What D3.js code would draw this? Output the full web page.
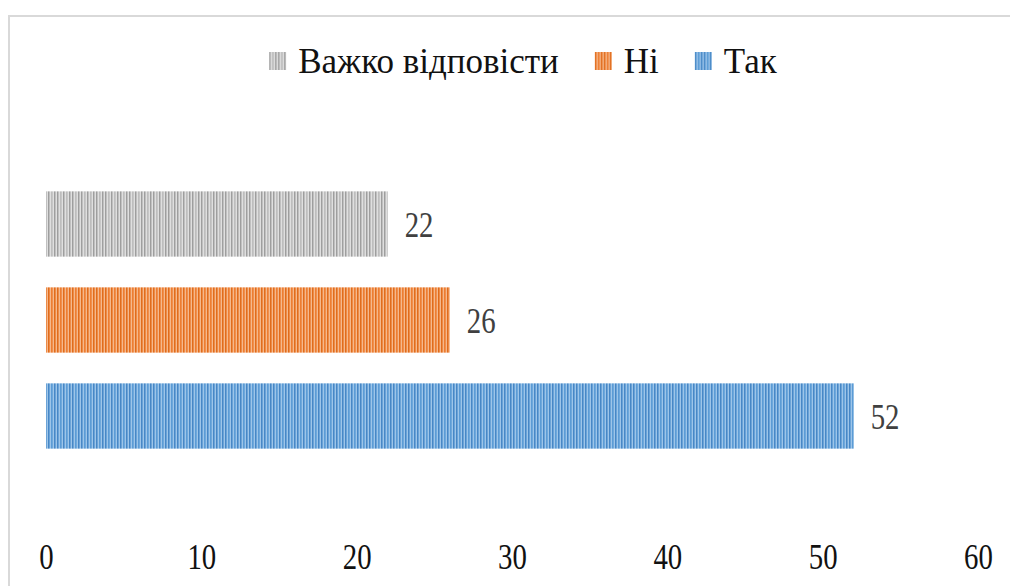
<!DOCTYPE html>
<html><head><meta charset="utf-8">
<script src="https://cdn.jsdelivr.net/npm/d3@7/dist/d3.min.js"></script>
<style>
  @font-face {
    font-family: "ChartSerif";
    src: local("Liberation Serif"), local("LiberationSerif"), local("LiberationSerif-Regular"),
         local("Times New Roman"), local("Tinos"), local("DejaVu Serif");
  }
</style>
</head>
<body style="margin:0">
<svg id="c" width="1010" height="586"></svg>
<script>
// Survey answers (percent)
const series = ["Важко відповісти", "Ні", "Так"];
const values = [22, 26, 52];
const colors = ["#bdbdbd", "#ed7d31", "#5b9bd5"];
const lightColors = ["#e8e8e8", "#f7c7a3", "#aed0ef"];
const darkColors = ["#9e9e9e", "#e06c1c", "#4787c6"];
const xTicks = [0, 10, 20, 30, 40, 50, 60];

const FONT = '"Liberation Serif", ChartSerif, Tinos, "Times New Roman", "DejaVu Serif", serif';
const svg = d3.select("#c");
const W = 1010, H = 586;
const numScale = 0.8; // narrow digits

// chart frame
svg.append("rect")
  .attr("x", 9).attr("y", 16)
  .attr("width", W + 20).attr("height", H + 20)
  .attr("fill", "#fff")
  .attr("stroke", "#d9d9d9").attr("stroke-width", 2);

// striped fills
const defs = svg.append("defs");
const stripeOffsets = [0, 3, 6, 9, 12, 15, 18, 21];
const stripeShade = [1, 0, 1, 1, 0, 1, 0, 1];
series.forEach((s, i) => {
  const p = defs.append("pattern")
    .attr("id", "pat" + i)
    .attr("patternUnits", "userSpaceOnUse")
    .attr("width", 24).attr("height", 10);
  p.append("rect").attr("width", 24).attr("height", 10).attr("fill", lightColors[i]);
  stripeOffsets.forEach((o, k) => {
    p.append("rect")
      .attr("x", o).attr("y", 0)
      .attr("width", 1.5).attr("height", 10)
      .attr("fill", stripeShade[k] ? darkColors[i] : colors[i]);
    p.append("rect")
      .attr("x", o + 1.5).attr("y", 0)
      .attr("width", 0.7).attr("height", 10)
      .attr("fill", colors[i]);
  });
});

const x = d3.scaleLinear().domain([0, 60]).range([46, 978]);
const y = d3.scaleBand().domain(series).range([176, 464])
  .paddingInner(0.32).paddingOuter(0.16);

// bars
svg.append("g").selectAll("rect")
  .data(series)
  .join("rect")
  .attr("x", x(0))
  .attr("y", d => y(d))
  .attr("width", (d, i) => x(values[i]) - x(0))
  .attr("height", y.bandwidth())
  .attr("fill", (d, i) => `url(#pat${i})`);

// value labels
svg.append("g").selectAll("text")
  .data(series)
  .join("text")
  .attr("transform", (d, i) => `translate(${x(values[i]) + 17},${y(d) + y.bandwidth() / 2}) scale(${numScale},1)`)
  .attr("dy", "0.35em")
  .style("font-family", FONT)
  .attr("font-size", 36)
  .attr("fill", "#404040")
  .text((d, i) => values[i]);

// x axis labels
const axis = d3.axisBottom(x).tickValues(xTicks).tickSize(0).tickPadding(0);
const gx = svg.append("g").attr("transform", "translate(0,569)").call(axis);
gx.attr("font-family", null).attr("font-size", null);
gx.select(".domain").remove();
gx.selectAll(".tick line").remove();
gx.selectAll("text")
  .attr("dy", 0)
  .attr("y", 0)
  .attr("transform", `scale(${numScale},1)`)
  .style("font-family", FONT)
  .attr("font-size", 36)
  .attr("fill", "#111");

// legend
const legend = svg.append("g");
let cursor = 0;
series.forEach((s, i) => {
  const g = legend.append("g").attr("transform", `translate(${cursor},0)`);
  g.append("rect")
    .attr("x", 0).attr("y", -21)
    .attr("width", 17).attr("height", 18)
    .attr("fill", `url(#pat${i})`);
  const t = g.append("text")
    .attr("x", 29)
    .style("font-family", FONT)
    .attr("font-size", 35)
    .attr("fill", "#111")
    .text(s);
  cursor += 29 + t.node().getComputedTextLength() + 36;
});
const totalW = cursor - 36;
legend.attr("transform", `translate(${523 - totalW / 2},73)`);
</script>
</body></html>
